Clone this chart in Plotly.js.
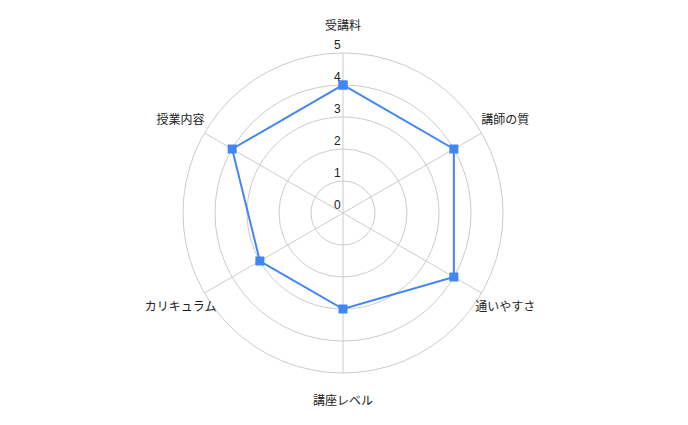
<!DOCTYPE html>
<html>
<head>
<meta charset="utf-8">
<script src="https://cdn.plot.ly/plotly-3.0.1.min.js"></script>
<style>
  html, body { margin: 0; padding: 0; background: #fff; }
  #chart { width: 688px; height: 425px; }
</style>
</head>
<body>
<div id="chart"></div>
<script>
// categories clockwise from the top
var categories = ['受講料', '講師の質', '通いやすさ', '講座レベル', 'カリキュラム', '授業内容'];
var scores = [4, 4, 4, 3, 3, 4];
var radialTicks = [0, 1, 2, 3, 4, 5];

// close the polygon
var theta = categories.concat([categories[0]]);
var r = scores.concat([scores[0]]);

var font = 'Liberation Sans, Arial, Noto Sans CJK JP, sans-serif';

var trace = {
  type: 'scatterpolar',
  r: r,
  theta: theta,
  mode: 'lines+markers',
  line: {color: '#4285F4', width: 2},
  marker: {color: '#4285F4', symbol: 'square', size: 9},
  hoverinfo: 'none',
  showlegend: false
};

// category names on an outer, invisible polar ring
var labels = {
  type: 'scatterpolar',
  subplot: 'polar2',
  r: categories.map(function () { return 1; }),
  theta: categories,
  mode: 'text',
  text: categories,
  textposition: 'middle center',
  textfont: {family: font, size: 12, color: '#222'},
  cliponaxis: false,
  hoverinfo: 'none',
  showlegend: false
};

var layout = {
  width: 688,
  height: 425,
  margin: {t: 27, b: 23, l: 0, r: 2},
  paper_bgcolor: '#fff',
  font: {family: font, size: 12, color: '#222'},
  showlegend: false,
  polar: {
    domain: {x: [0, 1], y: [0.0773, 0.9307]},
    bgcolor: '#fff',
    radialaxis: {
      range: [0, 5],
      angle: 90,
      tickangle: 90,
      side: 'counterclockwise',
      tickvals: radialTicks,
      ticktext: radialTicks.map(function (v) { return v + '<br> '; }),
      ticks: '',
      showline: false,
      gridcolor: '#cccccc',
      gridwidth: 1,
      tickfont: {family: font, size: 12, color: '#222'}
    },
    angularaxis: {
      direction: 'clockwise',
      rotation: 90,
      showline: true,
      linecolor: '#cccccc',
      linewidth: 1,
      gridcolor: '#cccccc',
      gridwidth: 1,
      ticks: '',
      showticklabels: false
    }
  },
  polar2: {
    domain: {x: [0, 1], y: [0, 1]},
    bgcolor: 'rgba(0,0,0,0)',
    radialaxis: {range: [0, 1], visible: false},
    angularaxis: {
      direction: 'clockwise',
      rotation: 90,
      visible: false
    }
  }
};

Plotly.newPlot('chart', [trace, labels], layout, {displayModeBar: false, staticPlot: true});
</script>
</body>
</html>
